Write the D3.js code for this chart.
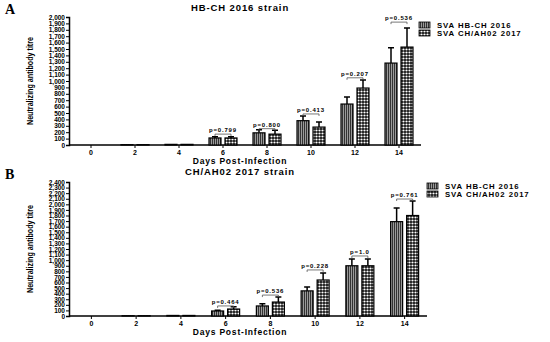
<!DOCTYPE html>
<html>
<head>
<meta charset="utf-8">
<script src="https://cdn.jsdelivr.net/npm/d3@7"></script>
<style>
  body { margin: 0; background: #fff; }
  text { font-family: "Liberation Sans", Arial, sans-serif; font-weight: bold; }
</style>
</head>
<body>
<script>
// days post infection
var days = ["0", "2", "4", "6", "8", "10", "12", "14"];
var seriesNames = ["SVA HB-CH 2016", "SVA CH/AH02 2017"];

// panel A: HB-CH 2016 strain
var aHB = [0, 5, 10, 110, 190, 380, 640, 1280];
var aHBerr = [0, 0, 0, 20, 50, 75, 110, 240];
var aCH = [0, 5, 10, 110, 170, 280, 890, 1530];
var aCHerr = [0, 0, 0, 20, 60, 80, 125, 300];
var aP = ["", "", "", "p=0.799", "p=0.800", "p=0.413", "p=0.207", "p=0.536"];
var aPy = [0, 0, 0, 170, 255, 485, 1050, 1920];
var aTicks = d3.range(0, 2001, 100);

// panel B: CH/AH02 2017 strain
var bHB = [0, 5, 10, 90, 180, 450, 900, 1690];
var bHBerr = [0, 0, 0, 15, 40, 70, 120, 245];
var bCH = [0, 5, 10, 125, 250, 645, 900, 1800];
var bCHerr = [0, 0, 0, 40, 90, 125, 120, 260];
var bP = ["", "", "", "p=0.464", "p=0.536", "p=0.228", "p=1.0", "p=0.761"];
var bPy = [0, 0, 0, 180, 375, 825, 1075, 2095];
var bTicks = d3.range(0, 2401, 100);

var svg = d3.select("body").append("svg")
  .attr("width", 550).attr("height", 342);

// fill patterns
var defs = svg.append("defs");
var p1 = defs.append("pattern").attr("id", "stripes")
  .attr("patternUnits", "userSpaceOnUse").attr("width", 2).attr("height", 4);
p1.append("rect").attr("width", 2).attr("height", 4).attr("fill", "#9a9a9a");
p1.append("rect").attr("width", 1).attr("height", 4).attr("fill", "#333");

var p2 = defs.append("pattern").attr("id", "checks")
  .attr("patternUnits", "userSpaceOnUse").attr("width", 3).attr("height", 3);
p2.append("rect").attr("width", 3).attr("height", 3).attr("fill", "#111");
p2.append("circle").attr("cx", 1.5).attr("cy", 1.5).attr("r", 1.1).attr("fill", "#fff");

var fills = ["url(#stripes)", "url(#checks)"];

function drawPanel(opt) {
  var g = svg.append("g");
  var x = d3.scaleBand().domain(days).range([opt.x0, opt.x1]);
  var y = d3.scaleLinear().domain([0, opt.max]).range([opt.y0, opt.y1]);
  var bw = 12, gap = 4;

  // panel letter and title
  g.append("text").attr("x", 5).attr("y", opt.y1 - 3)
    .style("font-family", "'Liberation Serif', serif").style("font-size", "14px")
    .text(opt.letter);
  g.append("text").attr("x", 240).attr("y", opt.titleY)
    .attr("text-anchor", "middle").style("font-size", "9.5px")
    .style("letter-spacing", "0.9px").text(opt.title);

  // y axis
  var yAxis = d3.axisLeft(y).tickValues(opt.ticks).tickSize(3).tickFormat(d3.format(","));
  var ya = g.append("g").attr("transform", "translate(" + opt.x0 + ",0)").call(yAxis);
  ya.selectAll("text").style("font-size", "6.5px").attr("x", -4);
  ya.select(".domain").attr("stroke-width", 1.5);

  // x axis
  var xAxis = d3.axisBottom(x).tickSize(3);
  var xa = g.append("g").attr("transform", "translate(0," + opt.y0 + ")").call(xAxis);
  xa.select(".domain").attr("stroke-width", 1.5).attr("d", "M" + opt.x0 + ",0H" + opt.x1);
  xa.selectAll("text").style("font-size", "7px").attr("y", 5);

  g.append("text").attr("x", 240).attr("y", opt.y0 + 19)
    .attr("text-anchor", "middle").style("font-size", "8.5px")
    .style("letter-spacing", "0.8px").text("Days Post-Infection");

  var cy = (opt.y0 + opt.y1) / 2;
  g.append("text").attr("transform", "translate(" + 33 + "," + cy + ") rotate(-90)")
    .attr("text-anchor", "middle").style("font-size", "9.5px")
    .style("font-family", "'Liberation Sans Narrow', 'Liberation Sans', sans-serif")
    .attr("textLength", 88).attr("lengthAdjust", "spacingAndGlyphs")
    .text("Neutralizing antibody titre");

  [opt.s1, opt.s2].forEach(function(vals, si) {
    var errs = si === 0 ? opt.e1 : opt.e2;
    var xs = function(i) {
      var c = x(days[i]) + x.bandwidth() / 2;
      return si === 0 ? c - gap / 2 - bw : c + gap / 2;
    };
    var idx = d3.range(vals.length).filter(function(i) { return errs[i] > 0; });
    // upward error bars
    g.selectAll(".err" + si).data(idx).enter().append("path")
      .attr("d", function(i) {
        var cx = xs(i) + bw / 2;
        var top = y(vals[i] + errs[i]);
        return "M" + cx + "," + y(vals[i]) + "V" + top + "M" + (cx - 3) + "," + top + "H" + (cx + 3);
      })
      .attr("stroke", "#000").attr("stroke-width", 1.5).attr("fill", "none");
    g.selectAll(".bar" + si).data(vals).enter().append("rect")
      .attr("x", function(d, i) { return xs(i); })
      .attr("y", function(d) { return y(d); })
      .attr("width", bw)
      .attr("height", function(d) { return opt.y0 - y(d); })
      .attr("fill", fills[si]).attr("stroke", "#000").attr("stroke-width", 1.2);
  });

  // p-value brackets
  opt.p.forEach(function(lbl, i) {
    if (!lbl) return;
    var c = x(days[i]) + x.bandwidth() / 2;
    var l = c - gap / 2 - bw / 2, r = c + gap / 2 + bw / 2;
    var yy = y(opt.py[i]);
    g.append("path").attr("d", "M" + l + "," + (yy + 2) + "V" + yy + "H" + r + "V" + (yy + 2))
      .attr("stroke", "#555").attr("stroke-width", 0.8).attr("fill", "none");
    g.append("text").attr("x", c).attr("y", yy - 2).attr("text-anchor", "middle")
      .style("font-size", "6px").style("letter-spacing", "0.8px").text(lbl);
  });

  // legend
  seriesNames.forEach(function(n, i) {
    g.append("rect").attr("x", opt.lx).attr("y", opt.ly + i * 8 - 3)
      .attr("width", 11).attr("height", 6).attr("fill", fills[i])
      .attr("stroke", "#000").attr("stroke-width", 0.8);
    g.append("text").attr("x", opt.lx + 18).attr("y", opt.ly + i * 8 + 3)
      .style("font-size", "7.8px").style("letter-spacing", "0.9px").text(n);
  });
}

drawPanel({
  letter: "A", title: "HB-CH 2016 strain", titleY: 11,
  x0: 69, x1: 421, y0: 145, y1: 17, max: 2000, ticks: aTicks,
  s1: aHB, e1: aHBerr, s2: aCH, e2: aCHerr, p: aP, py: aPy,
  lx: 419, ly: 25
});

drawPanel({
  letter: "B", title: "CH/AH02 2017 strain", titleY: 175,
  x0: 69, x1: 427, y0: 316, y1: 182, max: 2400, ticks: bTicks,
  s1: bHB, e1: bHBerr, s2: bCH, e2: bCHerr, p: bP, py: bPy,
  lx: 427, ly: 186
});
</script>
</body>
</html>
